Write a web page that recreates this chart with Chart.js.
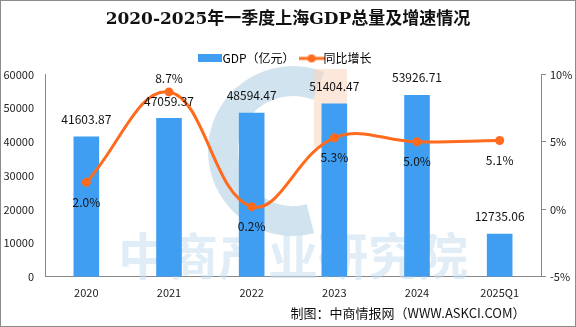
<!DOCTYPE html>
<html>
<head>
<meta charset="utf-8">
<script src="https://cdn.jsdelivr.net/npm/chart.js@4"></script>
<style>
  html, body { margin: 0; padding: 0; background: #fff; }
  #wrap { position: relative; width: 574px; height: 325px; border: 1px solid #8c8c8c; }
  canvas { display: block; }
</style>
</head>
<body>
<div id="wrap"><canvas id="gdpChart" width="574" height="325"></canvas></div>
<script>
// data
const years = ['2020', '2021', '2022', '2023', '2024', '2025Q1'];
const gdpValues = [41603.87, 47059.37, 48594.47, 51404.47, 53926.71, 12735.06];
const growthRates = [2.0, 8.7, 0.2, 5.3, 5.0, 5.1];
const growthLabelPos = ['below', 'above', 'below', 'below', 'below', 'below'];

const fontFamily = "'Noto Sans CJK SC', sans-serif";
Chart.defaults.font.family = fontFamily;
Chart.defaults.color = '#222';

// legend marker: line with a dot
const lineMarker = document.createElement('canvas');
lineMarker.width = 26;
lineMarker.height = 10;
(function() {
    const c = lineMarker.getContext('2d');
    c.strokeStyle = '#ff6a1c';
    c.lineWidth = 3;
    c.beginPath(); c.moveTo(0, 5); c.lineTo(26, 5); c.stroke();
    c.fillStyle = '#ff6a1c';
    c.beginPath(); c.arc(13, 5, 4, 0, Math.PI * 2); c.fill();
})();
const barMarker = document.createElement('canvas');
barMarker.width = 24;
barMarker.height = 8;
(function() {
    const c = barMarker.getContext('2d');
    c.fillStyle = '#3f9ef2';
    c.fillRect(0, 0, 24, 8);
})();

// watermark behind the marks
const watermark = {
    id: 'watermark',
    beforeDatasetsDraw(chart) {
        const { ctx } = chart;
        ctx.save();
        ctx.strokeStyle = 'rgba(190, 215, 232, 0.7)';
        ctx.lineWidth = 30;
        ctx.beginPath();
        ctx.arc(292, 150, 70, Math.PI * 0.42, Math.PI * 1.62);
        ctx.stroke();
        ctx.fillStyle = 'rgba(250, 215, 195, 0.6)';
        ctx.fillRect(313, 68, 33, 78);
        ctx.font = "bold 50px " + fontFamily;
        ctx.fillStyle = 'rgba(200, 222, 238, 0.55)';
        ctx.textAlign = 'center';
        ctx.textBaseline = 'middle';
        ctx.fillText('中商产业研究院', 292, 255);
        ctx.restore();
    }
};

// value labels and footer
const labels = {
    id: 'labels',
    afterDatasetsDraw(chart) {
        const { ctx } = chart;
        ctx.save();
        ctx.font = "12px " + fontFamily;
        ctx.fillStyle = '#111';
        ctx.textAlign = 'center';
        chart.getDatasetMeta(1).data.forEach((bar, i) => {
            ctx.textBaseline = 'bottom';
            ctx.fillText(gdpValues[i].toFixed(2), bar.x, bar.y - 11);
        });
        chart.getDatasetMeta(0).data.forEach((pt, i) => {
            const txt = growthRates[i].toFixed(1) + '%';
            if (growthLabelPos[i] === 'above') {
                ctx.textBaseline = 'bottom';
                ctx.fillText(txt, pt.x, pt.y - 8);
            } else {
                ctx.textBaseline = 'top';
                ctx.fillText(txt, pt.x, pt.y + 14);
            }
        });
        ctx.font = "13px " + fontFamily;
        ctx.textBaseline = 'middle';
        ctx.fillText('制图：中商情报网（WWW.ASKCI.COM）', 407, 312);
        ctx.restore();
    }
};

const ctx = document.getElementById('gdpChart').getContext('2d');
new Chart(ctx, {
    data: {
        labels: years,
        datasets: [
            {
                type: 'line',
                label: '同比增长',
                data: growthRates,
                yAxisID: 'y1',
                borderColor: '#ff6a1c',
                backgroundColor: '#ff6a1c',
                borderWidth: 3,
                tension: 0.4,
                pointRadius: 4.5,
                pointBackgroundColor: '#ff6a1c',
                pointBorderWidth: 0,
                order: 0
            },
            {
                type: 'bar',
                label: 'GDP（亿元）',
                data: gdpValues,
                yAxisID: 'y',
                backgroundColor: '#3f9ef2',
                barPercentage: 0.31,
                categoryPercentage: 1,
                order: 1
            }
        ]
    },
    options: {
        responsive: false,
        animation: false,
        layout: { padding: { top: 0, bottom: 18, left: 0, right: 0 } },
        scales: {
            x: {
                grid: { display: false, drawTicks: false },
                border: { color: '#888' },
                ticks: { font: { size: 11 }, color: '#222', padding: 9 }
            },
            y: {
                position: 'left',
                min: 0,
                max: 60000,
                ticks: { stepSize: 10000, font: { size: 11 }, color: '#222', padding: 6,
                    callback: v => String(v) },
                grid: { display: false, drawOnChartArea: false, drawTicks: true, tickLength: 5, color: '#888' },
                border: { color: '#888' },
                afterFit(axis) { axis.width = 44; }
            },
            y1: {
                position: 'right',
                min: -5,
                max: 10,
                ticks: { stepSize: 5, font: { size: 11 }, color: '#222', padding: 4,
                    callback: v => v + '%' },
                grid: { drawOnChartArea: false, drawTicks: true, tickLength: 5, color: '#888' },
                border: { color: '#888' },
                afterFit(axis) { axis.width = 34; }
            }
        },
        plugins: {
            title: {
                display: true,
                text: '2020-2025年一季度上海GDP总量及增速情况',
                font: { size: 17, weight: 'bold', family: "'DejaVu Serif', 'Noto Sans CJK SC', serif" },
                color: '#111',
                padding: { top: 8, bottom: 12 }
            },
            legend: {
                display: true,
                labels: {
                    font: { size: 12 },
                    color: '#111',
                    usePointStyle: true,
                    padding: 11,
                    generateLabels(chart) {
                        return [
                            { text: 'GDP（亿元）', pointStyle: barMarker, lineWidth: 0, datasetIndex: 1 },
                            { text: '同比增长', pointStyle: lineMarker, lineWidth: 0, datasetIndex: 0 }
                        ];
                    }
                }
            },
            tooltip: { enabled: false }
        }
    },
    plugins: [watermark, labels]
});
</script>
</body>
</html>
